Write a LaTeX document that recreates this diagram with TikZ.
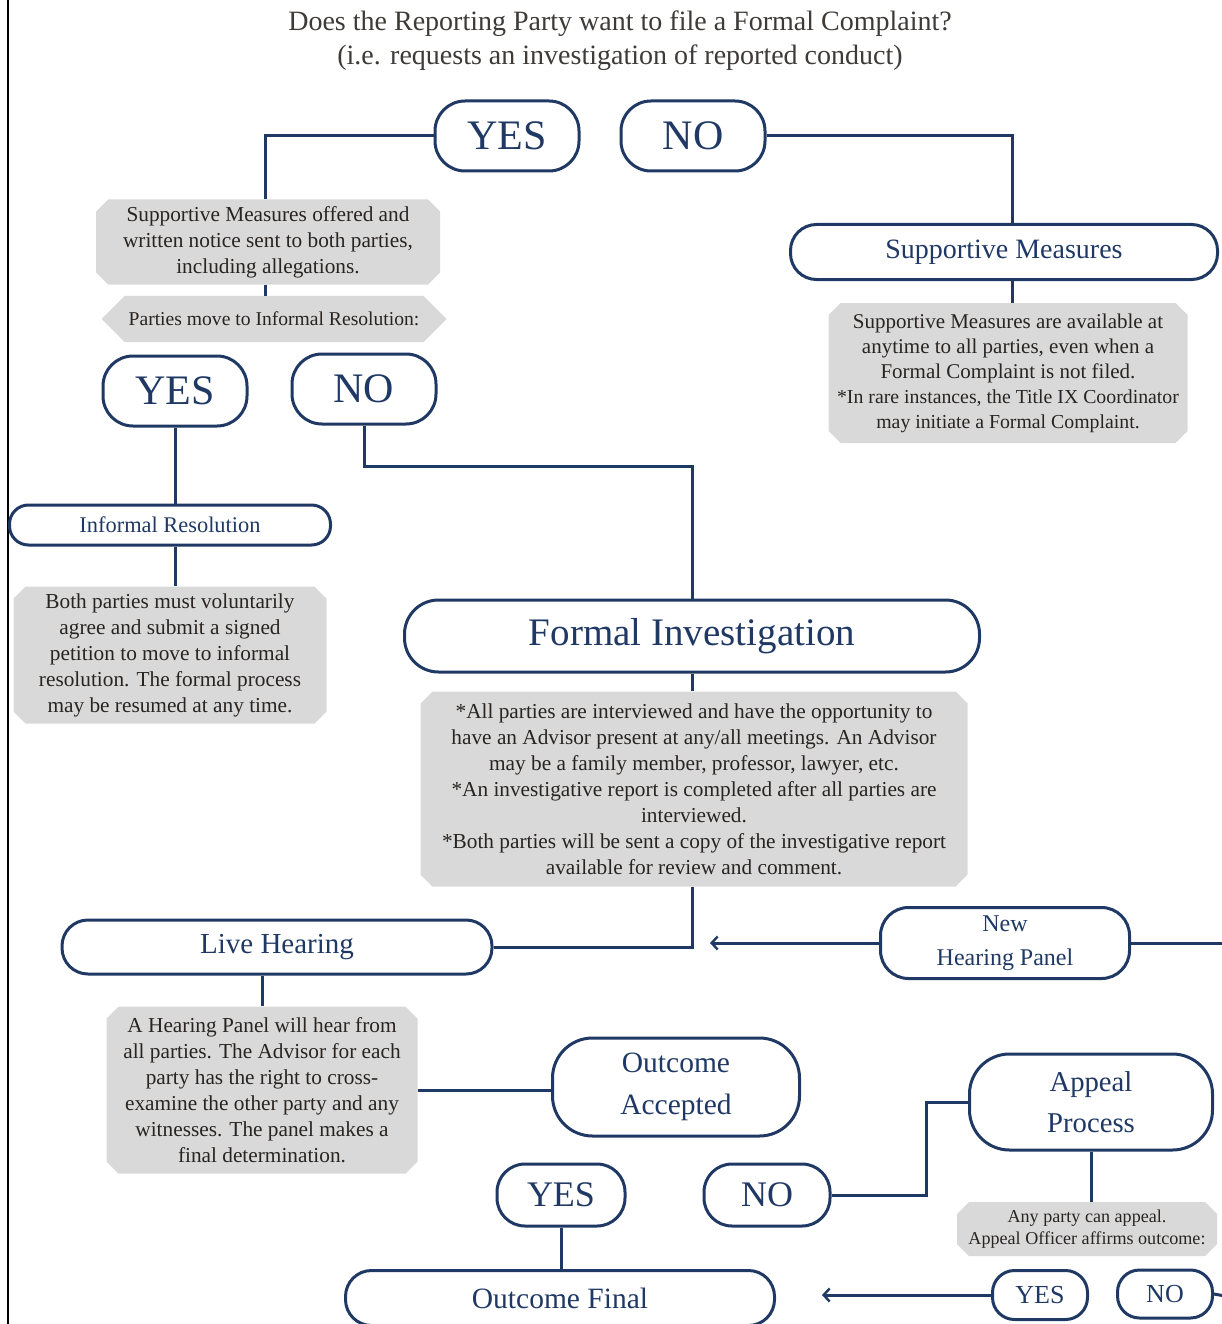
\documentclass[tikz,border=0pt]{standalone}
\usepackage{fontspec}
\setmainfont{Liberation Serif}
\usetikzlibrary{arrows.meta,shapes.misc}

\definecolor{navy}{RGB}{31,56,100}
\definecolor{boxgray}{RGB}{217,217,217}
\definecolor{ink}{RGB}{40,36,34}

\begin{document}
\begin{tikzpicture}[
  x=1pt, y=-1pt,
  pill/.style={draw=navy, line width=3pt, rounded corners=#1, text=navy,
    align=center, inner sep=0pt},
  pill/.default=26pt,
  note/.style={chamfered rectangle, chamfered rectangle xsep=6pt,
    chamfered rectangle ysep=6pt, fill=boxgray, text=ink, align=center,
    inner sep=0pt, font=\fontsize{21.3}{26}\selectfont},
  link/.style={draw=navy, line width=3pt},
  big/.style={font=\fontsize{42}{42}\selectfont},
  >={Straight Barb[length=6pt,width=13pt,line width=2.4pt]}
]
\useasboundingbox (0,0) rectangle (1221,1324);
\draw[line width=1.3pt] (8,0) -- (8,1324);

% question
\node[text=ink!90, align=center, font=\fontsize{28}{34}\selectfont] (question) at (620,41)
  {Does the Reporting Party want to file a Formal Complaint?\\
   (i.e. requests an investigation of reported conduct)};

% first answer
\node[pill=30pt, big, minimum width=144pt, minimum height=70pt] (yes1) at (507,136) {YES};
\node[pill=30pt, big, minimum width=144pt, minimum height=70pt] (no1) at (693,136) {NO};

\node[note, minimum width=344pt, minimum height=85pt] (notice) at (268,242)
  {Supportive Measures offered and\\ written notice sent to both parties,\\ including allegations.};
\node[note, chamfered rectangle xsep=12pt, chamfered rectangle ysep=16pt,
  font=\fontsize{19.6}{22}\selectfont, minimum width=345pt, minimum height=32pt] (informal) at (274,319)
  {Parties move to Informal Resolution:};

\node[pill=26pt, minimum width=427pt, minimum height=55pt, font=\fontsize{28}{28}\selectfont] (support) at (1004,252)
  {Supportive Measures};
\node[note, font=\fontsize{21}{25}\selectfont, minimum width=359pt, minimum height=140pt] (supportnote) at (1008,373)
  {Supportive Measures are available at\\
   anytime to all parties, even when a\\
   Formal Complaint is not filed.\\
   \fontsize{19.8}{25}\selectfont *In rare instances, the Title IX Coordinator\\
   \fontsize{19.8}{25}\selectfont may initiate a Formal Complaint.};

% informal resolution
\node[pill=30pt, big, minimum width=144pt, minimum height=70pt] (yes2) at (175,391) {YES};
\node[pill=30pt, big, minimum width=144pt, minimum height=70pt] (no2) at (364,389) {NO};
\node[pill=19pt, minimum width=321pt, minimum height=40pt, font=\fontsize{22.4}{22}\selectfont] (resolution) at (170,525)
  {Informal Resolution};
\node[note, minimum width=313pt, minimum height=137pt] (petition) at (170,655)
  {Both parties must voluntarily\\ agree and submit a signed\\ petition to move to informal\\
   resolution. The formal process\\ may be resumed at any time.};

% formal investigation
\node[pill=34pt, minimum width=575pt, minimum height=72pt, font=\fontsize{39}{39}\selectfont] (formal) at (692,636)
  {Formal Investigation};
\node[note, minimum width=547pt, minimum height=195pt] (facts) at (694,789)
  {*All parties are interviewed and have the opportunity to\\
   have an Advisor present at any/all meetings. An Advisor\\
   may be a family member, professor, lawyer, etc.\\
   *An investigative report is completed after all parties are\\
   interviewed.\\
   *Both parties will be sent a copy of the investigative report\\
   available for review and comment.};

% hearing
\node[pill=26pt, minimum width=430pt, minimum height=54pt, font=\fontsize{29}{29}\selectfont] (live) at (277,947)
  {Live Hearing};
\node[pill=28pt, minimum width=249pt, minimum height=71pt, font=\fontsize{24}{34}\selectfont] (newpanel) at (1005,943)
  {New\\ Hearing Panel};
\coordinate (back) at (710,943);
\coordinate (offright) at (1225,943);
\node[note, minimum width=311pt, minimum height=167pt] (hearing) at (262,1090)
  {A Hearing Panel will hear from\\ all parties. The Advisor for each\\ party has the right to cross-\\
   examine the other party and any\\ witnesses. The panel makes a\\ final determination.};

% outcome
\node[pill=40pt, minimum width=247pt, minimum height=98pt, font=\fontsize{29.5}{42}\selectfont] (accepted) at (676,1087)
  {Outcome\\ Accepted};
\node[pill=28pt, minimum width=128pt, minimum height=62pt, font=\fontsize{36}{36}\selectfont] (yes3) at (561,1195) {YES};
\node[pill=28pt, minimum width=126pt, minimum height=62pt, font=\fontsize{36}{36}\selectfont] (no3) at (767,1195) {NO};
\node[pill=26pt, minimum width=429pt, minimum height=55pt, font=\fontsize{29.5}{29}\selectfont] (final) at (560,1298)
  {Outcome Final};

% appeal
\node[pill=40pt, minimum width=243pt, minimum height=96pt, font=\fontsize{28.7}{41}\selectfont] (appeal) at (1091,1102)
  {Appeal\\ Process};
\node[note, font=\fontsize{18.1}{22}\selectfont, minimum width=260pt, minimum height=54pt] (affirm) at (1087,1229)
  {Any party can appeal.\\ Appeal Officer affirms outcome:};
\node[pill=22pt, minimum width=95pt, minimum height=49pt, font=\fontsize{26}{26}\selectfont] (yes4) at (1040,1295) {YES};
\node[pill=22pt, minimum width=95pt, minimum height=48pt, font=\fontsize{26}{26}\selectfont] (no4) at (1165,1294) {NO};
\coordinate (toFinal) at (822,1295);
\coordinate (offright2) at (1225,1296);

% connectors
\draw[link] (yes1.west) -| ([xshift=-3pt]notice.north);
\draw[link] ([xshift=-3pt]notice.south) -- ([xshift=-3pt]notice.south |- informal.north);
\draw[link] (no1.east) -| ([xshift=8pt]support.north);
\draw[link] ([xshift=8pt]support.south) -- ([xshift=8pt]support.south |- supportnote.north);
\draw[link] (yes2.south) -- (yes2.south |- resolution.north);
\draw[link] (yes2.south |- resolution.south) -- (yes2.south |- petition.north);
\draw[link] (no2.south) -- ++(0,41) -| (formal.north);
\draw[link] (formal.south) -- (formal.south |- facts.north);
\draw[link] (formal.south |- facts.south) |- (live.east);
\draw[link,->] (newpanel.west) -- (back);
\draw[link] (newpanel.east) -- (offright);
\draw[link] (hearing.north |- live.south) -- (hearing.north);
\draw[link] (hearing.east) -- (hearing.east -| accepted.west);
\draw[link] (yes3.south) -- (yes3.south |- final.north);
\draw[link] (no3.east) -- ++(95,0) |- (appeal.west);
\draw[link] (appeal.south) -- (appeal.south |- affirm.north);
\draw[link,->] (yes4.west) -- (toFinal);
\draw[link] (no4.east) -- (offright2);
\end{tikzpicture}
\end{document}
